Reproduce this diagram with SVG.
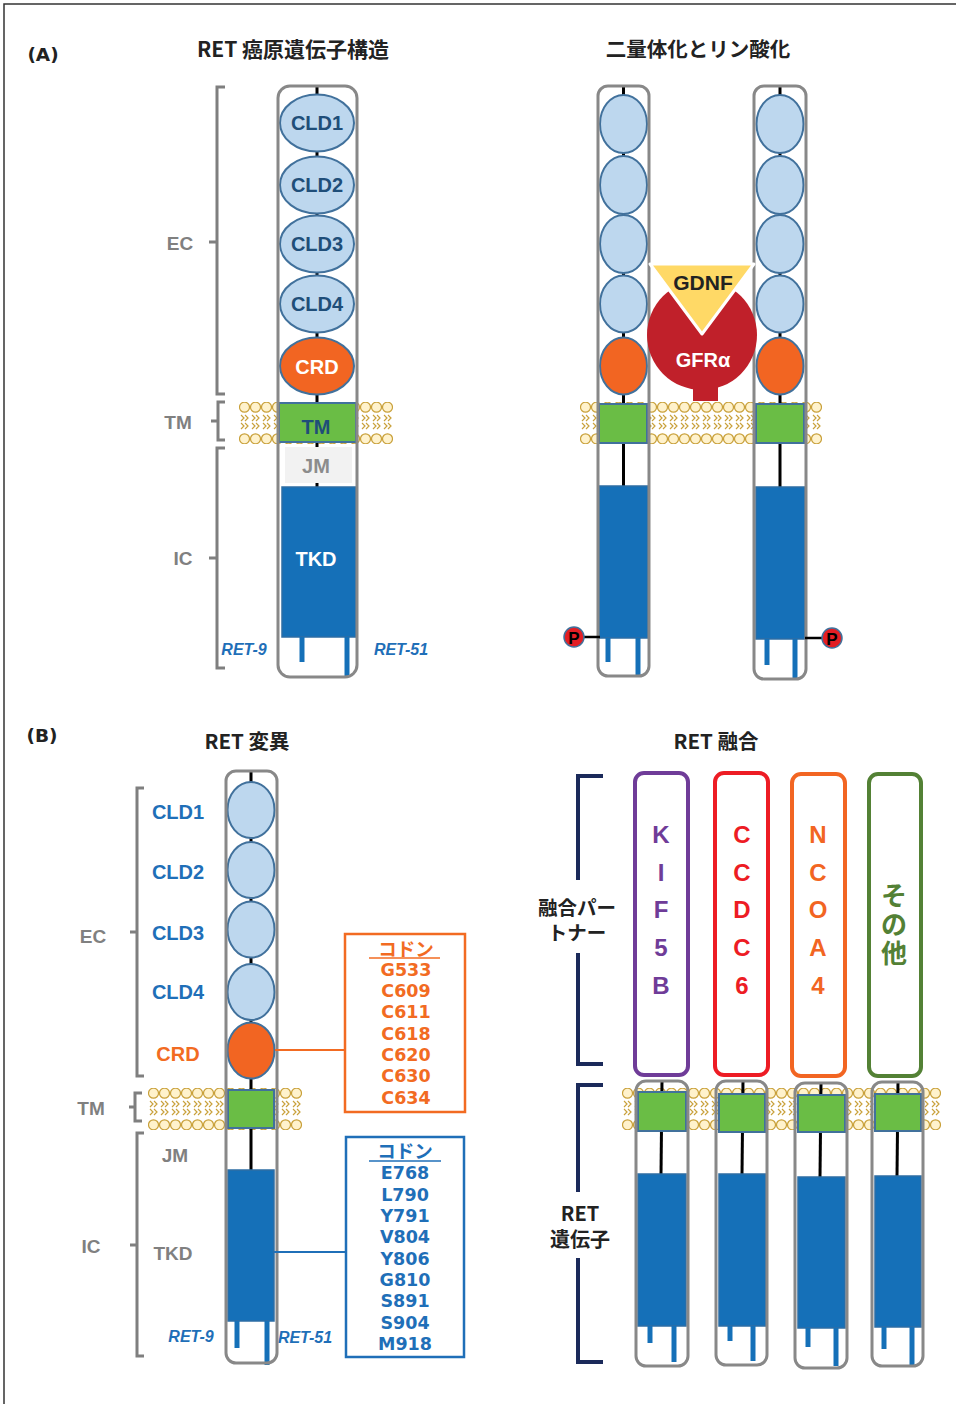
<svg xmlns="http://www.w3.org/2000/svg" width="956" height="1404" viewBox="0 0 956 1404">
  <defs>
    <style>
      .lat { font-family: "Liberation Sans", Arial, sans-serif; font-weight: bold; text-anchor: middle; dominant-baseline: central; }
      .cjk { font-family: "Noto Sans CJK JP", sans-serif; font-weight: bold; text-anchor: middle; dominant-baseline: central; }
      .dv { font-family: "DejaVu Sans", sans-serif; font-weight: bold; text-anchor: middle; dominant-baseline: central; }
      .box { fill: none; stroke: #888888; stroke-width: 3; }
      .cld { fill: #BDD7EE; stroke: #41719C; stroke-width: 2; }
      .crd { fill: #F26522; stroke: #41719C; stroke-width: 2; }
      .tm { fill: #6ABD45; stroke: #41719C; stroke-width: 2; }
      .tkd { fill: #1570B8; stroke: #2E6DA4; stroke-width: 1.5; }
      .tail { stroke: #1570B8; stroke-width: 5; fill: none; }
      .axis { stroke: #000; stroke-width: 3; fill: none; }
      .brk { fill: none; stroke: #7F7F7F; stroke-width: 3; }
      .nbrk { fill: none; stroke: #1B2A5A; stroke-width: 4; }
      .gray { fill: #808080; font-size: 19px; }
      .cldt { fill: #1F4E79; font-size: 20px; }
      .bl { fill: #1F6FB8; }
      .or { fill: #F26B22; }
      .ret { font-style: italic; font-size: 16px; fill: #1F6FB8; }
    </style>
    <pattern id="lipid" width="11" height="42" patternUnits="userSpaceOnUse">
      <circle cx="5.5" cy="5.2" r="5" fill="#FFF2CC" stroke="#C9A13B" stroke-width="1.2"/>
      <circle cx="5.5" cy="36.8" r="5" fill="#FFF2CC" stroke="#C9A13B" stroke-width="1.2"/>
      <path d="M2,13 l3,3 -3,3 M6,13 l3,3 -3,3 M2,21 l3,3 -3,3 M6,21 l3,3 -3,3" fill="none" stroke="#C9A13B" stroke-width="1.2"/>
    </pattern>
  </defs>

  <rect width="956" height="1404" fill="#FFFFFF"/>
  <!-- frame -->
  <path d="M4,1404 V4 H956" fill="none" stroke="#333" stroke-width="1.5"/>

  <!-- ===== Panel A ===== -->
  <text class="dv" x="43" y="54" font-size="18.5" fill="#222">(A)</text>
  <text class="cjk" x="293" y="48" font-size="21" fill="#222">RET 癌原遺伝子構造</text>
  <text class="cjk" x="698" y="48" font-size="20.5" fill="#222">二量体化とリン酸化</text>

  <!-- domain brackets, A -->
  <g id="a-brackets">
    <path class="brk" d="M225,87 H217 V394 H225 M217,242 H209"/>
    <path class="brk" d="M225,402 H218 V440 H225 M218,421 H211"/>
    <path class="brk" d="M225,448 H217 V668 H225 M217,558 H209"/>
    <text class="lat gray" x="180" y="243">EC</text>
    <text class="lat gray" x="178" y="422">TM</text>
    <text class="lat gray" x="183" y="558">IC</text>
  </g>

  <!-- membranes -->
  <g id="membranes">
    <g transform="translate(239,402)"><rect width="154" height="42" fill="url(#lipid)"/></g>
    <g transform="translate(580,402)"><rect width="242" height="42" fill="url(#lipid)"/></g>
    <g transform="translate(148,1088)"><rect width="154" height="42" fill="url(#lipid)"/></g>
    <g transform="translate(622,1088)"><rect width="319" height="42" fill="url(#lipid)"/></g>
  </g>

  <!-- RET receptor structure -->
  <g id="ret-structure">
    <line class="axis" x1="317" y1="86" x2="317" y2="487"/>
    <ellipse class="cld" cx="317" cy="123" rx="37" ry="28.5"/>
    <ellipse class="cld" cx="317" cy="185" rx="37" ry="28.5"/>
    <ellipse class="cld" cx="317" cy="244" rx="37" ry="28.5"/>
    <ellipse class="cld" cx="317" cy="304" rx="37" ry="28.5"/>
    <ellipse class="crd" cx="317" cy="366" rx="37" ry="28.5"/>
    <text class="lat cldt" x="317" y="123">CLD1</text>
    <text class="lat cldt" x="317" y="185">CLD2</text>
    <text class="lat cldt" x="317" y="244">CLD3</text>
    <text class="lat cldt" x="317" y="304">CLD4</text>
    <text class="lat" x="317" y="367" font-size="20" fill="#FFFFFF">CRD</text>
    <rect class="tm" x="279" y="403" width="77" height="39"/>
    <text class="lat cldt" x="316" y="427">TM</text>
    <rect x="285" y="447" width="67" height="36" fill="#F2F2F2"/>
    <text class="lat" x="316" y="466" font-size="20" fill="#8C8C8C">JM</text>
    <rect class="tkd" x="282" y="487" width="74" height="150"/>
    <text class="lat" x="316" y="559" font-size="20" fill="#FFFFFF">TKD</text>
    <line class="tail" x1="302" y1="637" x2="302" y2="662"/>
    <line class="tail" x1="347" y1="637" x2="347" y2="677"/>
    <rect class="box" x="278" y="86" width="79" height="591" rx="12"/>
    <text class="lat ret" x="244" y="649">RET-9</text>
    <text class="lat ret" x="401" y="649">RET-51</text>
  </g>

  <!-- dimer: left receptor -->
  <g id="dimer-left">
    <line class="axis" x1="623.5" y1="86" x2="623.5" y2="486"/>
    <ellipse class="cld" cx="623.5" cy="124" rx="23.5" ry="29"/>
    <ellipse class="cld" cx="623.5" cy="185" rx="23.5" ry="29"/>
    <ellipse class="cld" cx="623.5" cy="244" rx="23.5" ry="29"/>
    <ellipse class="cld" cx="623.5" cy="304" rx="23.5" ry="28.5"/>
    <ellipse class="crd" cx="623.5" cy="366" rx="23.5" ry="28.5"/>
    <rect class="tm" x="599" y="404" width="48" height="39"/>
    <rect class="tkd" x="599" y="486" width="49" height="152"/>
    <line class="tail" x1="608" y1="638" x2="608" y2="662"/>
    <line class="tail" x1="638" y1="638" x2="638" y2="676"/>
    <rect class="box" x="598" y="86" width="51" height="590" rx="10"/>
    <line x1="584" y1="637" x2="600" y2="637" stroke="#000" stroke-width="2.5"/>
    <circle cx="574" cy="637" r="10" fill="#E31E24" stroke="#41719C" stroke-width="1.5"/>
    <text class="lat" x="574" y="638" font-size="17" fill="#000">P</text>
  </g>

  <!-- dimer: right receptor -->
  <g id="dimer-right">
    <line class="axis" x1="780" y1="86" x2="780" y2="487"/>
    <ellipse class="cld" cx="780" cy="124" rx="23.5" ry="29"/>
    <ellipse class="cld" cx="780" cy="185" rx="23.5" ry="29"/>
    <ellipse class="cld" cx="780" cy="244" rx="23.5" ry="29"/>
    <ellipse class="cld" cx="780" cy="304" rx="23.5" ry="28.5"/>
    <ellipse class="crd" cx="780" cy="366" rx="23.5" ry="28.5"/>
    <rect class="tm" x="756" y="404" width="48" height="39"/>
    <rect class="tkd" x="756" y="487" width="49" height="152"/>
    <line class="tail" x1="767" y1="639" x2="767" y2="665"/>
    <line class="tail" x1="795" y1="639" x2="795" y2="680"/>
    <rect class="box" x="754" y="86" width="52" height="593" rx="10"/>
    <line x1="805" y1="638" x2="822" y2="638" stroke="#000" stroke-width="2.5"/>
    <circle cx="832" cy="638" r="10" fill="#E31E24" stroke="#41719C" stroke-width="1.5"/>
    <text class="lat" x="832" y="639" font-size="17" fill="#000">P</text>
  </g>

  <!-- ligand complex -->
  <g id="gfra">
    <circle cx="702" cy="335" r="55" fill="#C0202A"/>
    <rect x="693" y="384" width="25" height="17" fill="#C0202A"/>
    <text class="lat" x="703" y="360" font-size="20" fill="#FFFFFF">GFRα</text>
  </g>
  <g id="gdnf">
    <polygon points="650,264 754,264 702,334" fill="#FFD966" stroke="#FFFFFF" stroke-width="3" stroke-linejoin="round"/>
    <text class="lat" x="703" y="282" font-size="21" fill="#222">GDNF</text>
  </g>

  <!-- ===== Panel B ===== -->
  <text class="dv" x="42" y="735" font-size="18.5" fill="#222">(B)</text>
  <text class="cjk" x="247" y="740" font-size="20.5" fill="#222">RET 変異</text>
  <text class="cjk" x="716" y="740" font-size="20.5" fill="#222">RET 融合</text>

  <g id="b-brackets">
    <path class="brk" d="M144,788 H137 V1076 H144 M137,932 H130"/>
    <path class="brk" d="M142,1093 H135 V1121 H142 M135,1107 H129"/>
    <path class="brk" d="M144,1133 H137 V1356 H144 M137,1245 H130"/>
    <text class="lat gray" x="93" y="936">EC</text>
    <text class="lat gray" x="91" y="1108">TM</text>
    <text class="lat gray" x="91" y="1246">IC</text>
  </g>

  <g id="b-domain-labels">
    <text class="lat bl" x="178" y="812" font-size="20">CLD1</text>
    <text class="lat bl" x="178" y="872" font-size="20">CLD2</text>
    <text class="lat bl" x="178" y="933" font-size="20">CLD3</text>
    <text class="lat bl" x="178" y="992" font-size="20">CLD4</text>
    <text class="lat or" x="178" y="1054" font-size="20">CRD</text>
    <text class="lat gray" x="175" y="1155">JM</text>
    <text class="lat gray" x="173" y="1253">TKD</text>
    <text class="lat ret" x="191" y="1336" font-size="15">RET-9</text>
    <text class="lat ret" x="305" y="1337" font-size="15">RET-51</text>
  </g>

  <!-- mutation map receptor -->
  <g id="mutation-receptor">
    <line class="axis" x1="251" y1="771" x2="251" y2="1170"/>
    <ellipse class="cld" cx="251" cy="810" rx="23.5" ry="28"/>
    <ellipse class="cld" cx="251" cy="870" rx="23.5" ry="28"/>
    <ellipse class="cld" cx="251" cy="929.5" rx="23.5" ry="28"/>
    <ellipse class="cld" cx="251" cy="992" rx="23.5" ry="28"/>
    <ellipse class="crd" cx="251" cy="1050.5" rx="23.5" ry="28"/>
    <rect class="tm" x="228" y="1090" width="46" height="38"/>
    <rect class="tkd" x="228" y="1170" width="46" height="151"/>
    <line class="tail" x1="237" y1="1321" x2="237" y2="1348"/>
    <line class="tail" x1="267" y1="1321" x2="267" y2="1365"/>
    <rect class="box" x="226" y="771" width="51" height="592" rx="10"/>
  </g>

  <!-- codon callouts -->
  <g id="connectors">
    <line x1="275" y1="1050" x2="345" y2="1050" stroke="#F26B22" stroke-width="2"/>
    <line x1="274" y1="1252" x2="346" y2="1252" stroke="#1F6FB8" stroke-width="2"/>
  </g>

  <g id="codons-crd">
    <rect x="345" y="934" width="120" height="178" fill="#FFFFFF" stroke="#F26B22" stroke-width="2.5"/>
    <text class="cjk or" x="406" y="948" font-size="18.5">コドン</text>
    <line x1="369" y1="958" x2="440" y2="958" stroke="#F26B22" stroke-width="1.5"/>
    <g class="dv or" font-size="17.5">
      <text x="406" y="969.5">G533</text>
      <text x="406" y="991">C609</text>
      <text x="406" y="1012">C611</text>
      <text x="406" y="1033.5">C618</text>
      <text x="406" y="1055">C620</text>
      <text x="406" y="1076">C630</text>
      <text x="406" y="1097.5">C634</text>
    </g>
  </g>

  <g id="codons-tkd">
    <rect x="346" y="1137" width="118" height="220" fill="#FFFFFF" stroke="#1F6FB8" stroke-width="2.5"/>
    <text class="cjk bl" x="405" y="1150" font-size="18.5">コドン</text>
    <line x1="369" y1="1161" x2="441" y2="1161" stroke="#1F6FB8" stroke-width="1.5"/>
    <g class="dv bl" font-size="17.5">
      <text x="405" y="1173">E768</text>
      <text x="405" y="1194.5">L790</text>
      <text x="405" y="1215.5">Y791</text>
      <text x="405" y="1237">V804</text>
      <text x="405" y="1258.5">Y806</text>
      <text x="405" y="1280">G810</text>
      <text x="405" y="1301">S891</text>
      <text x="405" y="1322.5">S904</text>
      <text x="405" y="1344">M918</text>
    </g>
  </g>

  <!-- fusion brackets -->
  <g id="fusion-brackets">
    <path class="nbrk" d="M603,776 H578 V880 M578,953 V1064 H603"/>
    <path class="nbrk" d="M603,1085 H578 V1192 M578,1258 V1362 H603"/>
    <text class="cjk" font-size="19.5" fill="#222"><tspan x="577" y="906">融合パー</tspan><tspan x="577" y="931">トナー</tspan></text>
    <text class="cjk" font-size="20" fill="#222"><tspan x="580" y="1212">RET</tspan><tspan x="580" y="1238">遺伝子</tspan></text>
  </g>

  <!-- fusion partners -->
  <g id="partner-kif5b">
    <rect x="635" y="773" width="53" height="302" rx="9" fill="none" stroke="#6F3C98" stroke-width="4"/>
    <g class="lat" font-size="24" fill="#6F3C98">
      <text x="661" y="834">K</text>
      <text x="661" y="872">I</text>
      <text x="661" y="909">F</text>
      <text x="661" y="947">5</text>
      <text x="661" y="985">B</text>
    </g>
  </g>
  <g id="partner-ccdc6">
    <rect x="715" y="773" width="53" height="302" rx="9" fill="none" stroke="#ED1C24" stroke-width="4"/>
    <g class="lat" font-size="24" fill="#ED1C24">
      <text x="742" y="834">C</text>
      <text x="742" y="872">C</text>
      <text x="742" y="909">D</text>
      <text x="742" y="947">C</text>
      <text x="742" y="985">6</text>
    </g>
  </g>
  <g id="partner-ncoa4">
    <rect x="792" y="774" width="53" height="302" rx="9" fill="none" stroke="#F26522" stroke-width="4"/>
    <g class="lat" font-size="24" fill="#F26522">
      <text x="818" y="834">N</text>
      <text x="818" y="872">C</text>
      <text x="818" y="909">O</text>
      <text x="818" y="947">A</text>
      <text x="818" y="985">4</text>
    </g>
  </g>
  <g id="partner-other">
    <rect x="869" y="774" width="52" height="302" rx="9" fill="none" stroke="#538135" stroke-width="4"/>
    <text class="cjk" font-size="26" fill="#538135"><tspan x="894" y="893">そ</tspan><tspan x="894" y="922">の</tspan><tspan x="894" y="951">他</tspan></text>
  </g>

  <!-- fusion receptors -->
  <g id="fusion-1">
    <line class="axis" x1="662" y1="1081" x2="661" y2="1174"/>
    <rect class="tm" x="638" y="1092" width="48" height="39"/>
    <rect class="tkd" x="638" y="1174" width="48" height="152"/>
    <line class="tail" x1="650" y1="1326" x2="650" y2="1343"/>
    <line class="tail" x1="674" y1="1326" x2="674" y2="1362"/>
    <rect class="box" x="636" y="1081" width="52" height="285" rx="10"/>
  </g>
  <g id="fusion-2">
    <line class="axis" x1="743" y1="1081" x2="742" y2="1174"/>
    <rect class="tm" x="719" y="1094" width="46" height="38"/>
    <rect class="tkd" x="719" y="1174" width="47" height="152"/>
    <line class="tail" x1="730" y1="1326" x2="730" y2="1341"/>
    <line class="tail" x1="753" y1="1326" x2="753" y2="1361"/>
    <rect class="box" x="716" y="1081" width="51" height="284" rx="10"/>
  </g>
  <g id="fusion-3">
    <line class="axis" x1="821" y1="1083" x2="820" y2="1177"/>
    <rect class="tm" x="798" y="1095" width="47" height="37"/>
    <rect class="tkd" x="798" y="1177" width="47" height="151"/>
    <line class="tail" x1="808" y1="1328" x2="808" y2="1347"/>
    <line class="tail" x1="836" y1="1328" x2="836" y2="1366"/>
    <rect class="box" x="795" y="1083" width="52" height="285" rx="10"/>
  </g>
  <g id="fusion-4">
    <line class="axis" x1="898" y1="1082" x2="897" y2="1176"/>
    <rect class="tm" x="875" y="1094" width="46" height="37"/>
    <rect class="tkd" x="875" y="1176" width="46" height="151"/>
    <line class="tail" x1="884" y1="1327" x2="884" y2="1349"/>
    <line class="tail" x1="912" y1="1327" x2="912" y2="1366"/>
    <rect class="box" x="872" y="1082" width="51" height="284" rx="10"/>
  </g>
</svg>
